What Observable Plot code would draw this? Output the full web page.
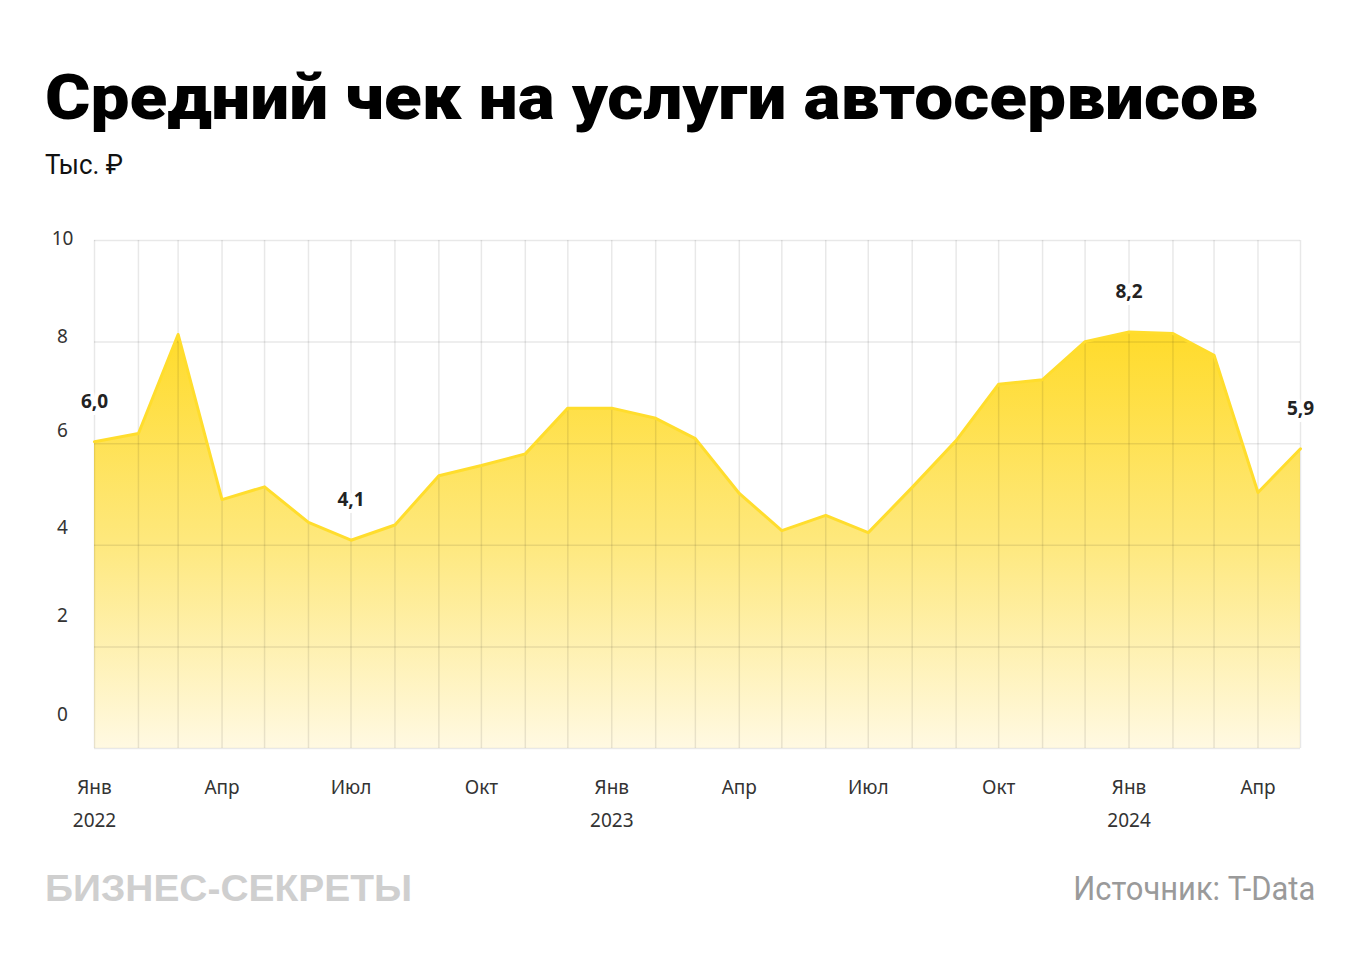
<!DOCTYPE html>
<html><head><meta charset="utf-8">
<script src="https://cdn.jsdelivr.net/npm/d3@7"></script>
<script src="https://cdn.jsdelivr.net/npm/@observablehq/plot@0.6"></script>
<style>
body{margin:0;background:#fff;width:1360px;height:966px;position:relative;overflow:hidden;font-family:Roboto, sans-serif;}
.abs{position:absolute;white-space:nowrap;line-height:1;}
#title{left:45px;top:66px;font-size:63px;font-weight:900;color:#000;transform-origin:0 0;}
#sub{left:45px;top:151px;font-size:28px;font-weight:400;color:#111;transform-origin:0 0;}
#logo{left:45px;top:871px;font-family:"Liberation Sans",Arial,sans-serif;font-size:36px;font-weight:700;color:#cfcfcf;transform-origin:0 0;}
#src{right:45px;top:872px;font-size:33px;font-weight:400;color:#9a9a9a;transform-origin:100% 0;}
#chart{position:absolute;left:0;top:200px;}
</style></head><body>
<div id="title" class="abs" data-w="1213">Средний чек на услуги автосервисов</div>
<div id="sub" class="abs" data-w="78">Тыс. ₽</div>
<div id="chart"></div>
<div id="logo" class="abs" data-w="367">БИЗНЕС-СЕКРЕТЫ</div>
<div id="src" class="abs" data-w="242">Источник: T-Data</div>
<script>
const months = ["2022-01","2022-02","2022-03","2022-04","2022-05","2022-06","2022-07","2022-08","2022-09","2022-10","2022-11","2022-12",
"2023-01","2023-02","2023-03","2023-04","2023-05","2023-06","2023-07","2023-08","2023-09","2023-10","2023-11","2023-12",
"2024-01","2024-02","2024-03","2024-04","2024-05"];
const values = [6.04,6.2,8.15,4.9,5.15,4.45,4.1,4.4,5.37,5.57,5.8,6.7,
6.7,6.5,6.1,5.02,4.29,4.59,4.25,5.14,6.06,7.17,7.26,8.01,
8.2,8.17,7.74,5.04,5.9];
const labelMonths = ["2022-01","2022-07","2024-01","2024-05"];
const quarterMonths = ["2022-01","2022-04","2022-07","2022-10","2023-01","2023-04","2023-07","2023-10","2024-01","2024-04"];
const quarterNames = ["Янв","Апр","Июл","Окт"];
const yearMonths = ["2022-01","2023-01","2024-01"];
const yTicks = [0,2,4,6,8,10];
const yTickDy = [-34,-31,-17,-13,-5,-2];

const parse = d3.utcParse("%Y-%m");
const data = months.map((m,i)=>({date:parse(m), value:values[i]}));
const labels = data.filter(d=>labelMonths.includes(d3.utcFormat("%Y-%m")(d.date)));
const fmt = v => d3.format(".1f")(v).replace(".", ",");
const qDates = quarterMonths.map(parse);
const yDates = yearMonths.map(parse);

const yellow = "#FFDD2D";
const axisFont = "'Noto Sans', sans-serif";

const marks = [
  Plot.areaY(data, {x:"date", y:"value", fill:"url(#areaGrad)", curve:"linear"}),
  Plot.ruleX(data, {x:"date", stroke:"#000", strokeOpacity:0.09, strokeWidth:1.5}),
  Plot.ruleY(yTicks, {stroke:"#000", strokeOpacity:0.09, strokeWidth:1.5}),
  Plot.lineY(data, {x:"date", y:"value", stroke:yellow, strokeWidth:3, strokeLinejoin:"round"}),
  Plot.text(labels, {x:"date", y:"value", text:d=>fmt(d.value), dy:-40, fontSize:19, fontWeight:700, fill:"#222", stroke:"white", strokeWidth:8, fontFamily:axisFont}),
  Plot.text(qDates, {x:d=>d, frameAnchor:"bottom", dy:45, text:d=>quarterNames[d.getUTCMonth()/3], fontSize:19, fill:"#333", fontFamily:axisFont}),
  Plot.text(yDates, {x:d=>d, frameAnchor:"bottom", dy:78, text:d=>String(d.getUTCFullYear()), fontSize:19, fill:"#333", fontFamily:axisFont}),
  ...yTicks.map((t,i)=>Plot.text([t], {y:d=>d, frameAnchor:"left", dx:-32, dy:yTickDy[i], text:d=>String(d), textAnchor:"middle", fontSize:19, fill:"#333", fontFamily:axisFont}))
];

const svg = Plot.plot({
  width:1360, height:640,
  marginLeft:94, marginRight:60, marginTop:40, marginBottom:92,
  x:{type:"utc", domain:[data[0].date, data[data.length-1].date], axis:null},
  y:{domain:[0,10], axis:null},
  style:{background:"transparent", overflow:"visible"},
  marks
});
const defs = d3.select(svg).insert("defs", ":first-child");
const grad = defs.append("linearGradient").attr("id","areaGrad").attr("x1",0).attr("y1",0).attr("x2",0).attr("y2",1);
grad.append("stop").attr("offset","0%").attr("stop-color","#FFDB2A");
grad.append("stop").attr("offset","50%").attr("stop-color","#FEE87C");
grad.append("stop").attr("offset","100%").attr("stop-color","#FFF9E2");
document.getElementById("chart").appendChild(svg);

function fit(){
  document.querySelectorAll("[data-w]").forEach(el=>{
    el.style.transform="none";
    const w = el.getBoundingClientRect().width;
    el.style.transform = `scaleX(${(+el.dataset.w)/w})`;
  });
}
fit();
if (document.fonts && document.fonts.ready) document.fonts.ready.then(fit);
</script>
</body></html>
